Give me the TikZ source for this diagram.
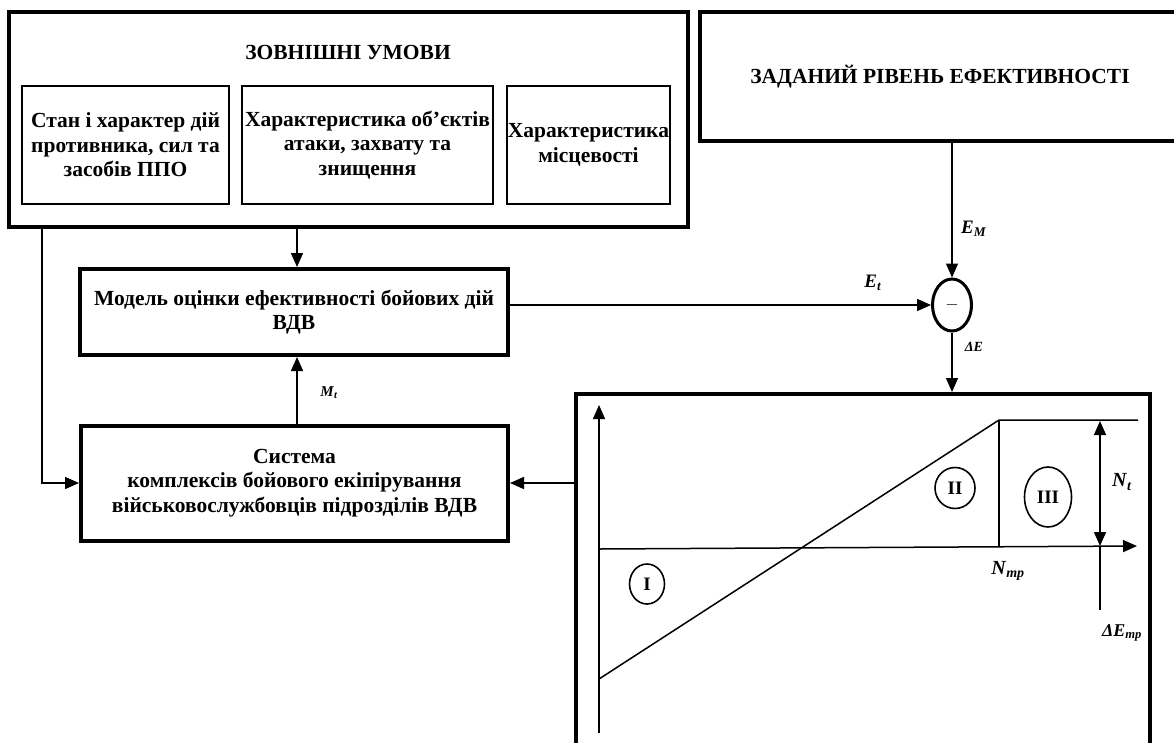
\documentclass[tikz,border=0pt]{standalone}
\usepackage{fontspec}
\setmainfont{Liberation Serif}
\usetikzlibrary{arrows.meta,shapes.geometric,calc}
\newcommand{\mylbl}[2]{\textbf{\textit{#1}}\textsubscript{\textbf{\textit{#2}}}}
\begin{document}
\begin{tikzpicture}[x=1pt,y=-1pt,
  txt/.style={font=\fontsize{21.5}{24.5}\selectfont\bfseries,align=center,inner sep=0pt},
  bigbox/.style={draw,line width=4pt,txt,minimum width=#1},
  smallbox/.style={draw,line width=2pt,txt,minimum width=#1,minimum height=118},
  conn/.style={line width=1.5pt},
  arr/.style={line width=1.5pt,-{Triangle[length=14pt,width=12pt]}},
  darr/.style={line width=1.5pt,{Triangle[length=14pt,width=12pt]}-{Triangle[length=14pt,width=12pt]}},
  lab/.style={font=\fontsize{#1}{#1}\selectfont,inner sep=1pt},
  roman/.style={draw,ellipse,line width=1.6pt,font=\fontsize{19}{19}\selectfont\bfseries,inner sep=0pt}
]
\useasboundingbox (0,0) rectangle (1174,743);
% boxes
\node[bigbox=679,minimum height=215] (outer) at (348.5,119.5) {};
\node[txt] (outertitle) at (348,52) {ЗОВНІШНІ УМОВИ};
\node[smallbox=207] (in1) at (125.5,145) {Стан і характер дій\\противника, сил та\\засобів ППО};
\node[smallbox=251] (in2) at (367.5,145) {Характеристика об’єктів\\атаки, захвату та\\знищення};
\node[smallbox=163] (in3) at (588.5,145) {Характеристика\\місцевості};
\node[bigbox=480,minimum height=129] (goal) at (940,76.5) {ЗАДАНИЙ РІВЕНЬ ЕФЕКТИВНОСТІ};
\node[bigbox=428,minimum height=86] (model) at (294,312) {Модель оцінки ефективності бойових дій\\ВДВ};
\node[bigbox=427,minimum height=115] (system) at (294.5,483) {Система\\комплексів бойового екіпірування\\військовослужбовців підрозділів ВДВ};
\node[draw,ellipse,line width=3pt,minimum width=39,minimum height=52,inner sep=0pt,font=\fontsize{16}{16}\selectfont] (circ) at (952,305) {$-$};
\node[draw,line width=4pt,minimum width=574,minimum height=366,inner sep=0pt] (chart) at (863,577) {};
% connectors
\coordinate (lx) at (42,0);
\coordinate (dx) at (297,0);
\draw[arr] (outer.south -| dx) -- (model.north -| dx);
\draw[arr] (outer.south -| lx) |- (system.west);
\draw[arr] (system.north -| dx) -- (model.south -| dx);
\draw[arr] (circ.west -| model.east) -- (circ.west);
\draw[arr] (goal.south -| circ.north) -- (circ.north);
\draw[arr] (circ.south) -- (circ.south |- chart.north);
\draw[arr] (chart.west |- system.east) -- (system.east);
% labels on connectors
\node[lab=15] (lm) at (329,393) {\mylbl{M}{t}};
\node[lab=19,anchor=west] (lem) at (960,229) {\mylbl{E}{M}};
\node[lab=19] (let) at (873,283) {\mylbl{E}{t}};
\node[lab=14] (lde) at (974,347) {\textbf{\textit{ΔE}}};
% chart
\coordinate (o1) at (599,733);
\coordinate (o2) at (599,405);
\coordinate (x1) at (600,549);
\coordinate (x2) at (1137,546);
\coordinate (d1) at (599,679);
\coordinate (d2) at (999,420);
\coordinate (d3) at (1138,420);
\coordinate (d4) at (999,547);
\coordinate (n1) at (1100,421);
\coordinate (n2) at (1100,546);
\coordinate (n3) at (1100,610);
\draw[arr] (o1) -- (o2);
\draw[arr] (x1) -- (x2);
\draw[conn] (d1) -- (d2) -- (d3);
\draw[conn] (d2) -- (d4);
\draw[darr] (n1) -- (n2);
\draw[conn] (n2) -- (n3);
\node[roman,minimum width=35,minimum height=40] (r1) at (647,584) {I};
\node[roman,minimum width=40,minimum height=41] (r2) at (955,488) {II};
\node[roman,minimum width=47,minimum height=60] (r3) at (1048,497) {III};
\node[lab=20] (lnt) at (1122,482) {\mylbl{N}{t}};
\node[lab=20] (lntr) at (1008,571) {\mylbl{N}{тр}};
\node[lab=18,fill=white,inner sep=3pt] (ldetr) at (1122,633) {\mylbl{ΔE}{тр}};
\end{tikzpicture}
\end{document}
